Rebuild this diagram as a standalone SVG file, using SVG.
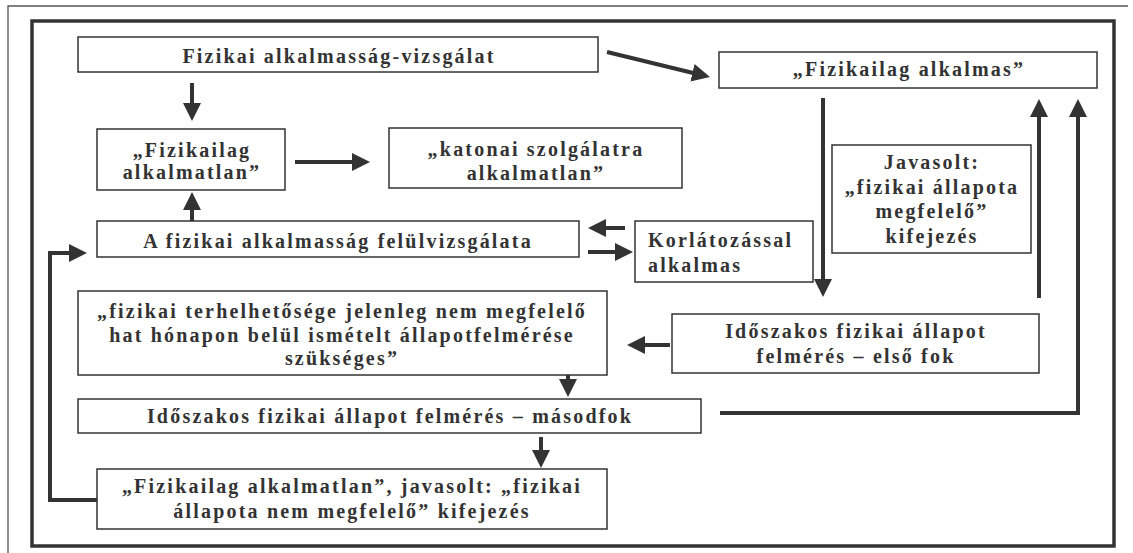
<svg xmlns="http://www.w3.org/2000/svg" width="1133" height="553" viewBox="0 0 1133 553">
<style>
.box{fill:#fff;stroke:#333;stroke-width:1.5}
.t{font-family:"Liberation Serif","Times New Roman",serif;font-weight:bold;font-size:20px;fill:#333;letter-spacing:2.2px}
.m{text-anchor:middle}
.c{fill:none;stroke:#333;stroke-width:4;marker-end:url(#ah)}
.cn{fill:none;stroke:#333;stroke-width:4}
</style>
<defs>
<marker id="ah" viewBox="0 0 18 18" refX="6" refY="9" markerWidth="18" markerHeight="18" markerUnits="userSpaceOnUse" orient="auto">
<path d="M0,0 L18,9 L0,18 z" fill="#333"/>
</marker>
</defs>
<rect width="1133" height="553" fill="#fff"/>
<path d="M8,553 V6 H1128" fill="none" stroke="#555" stroke-width="1.3"/>
<rect x="32" y="21" width="1082" height="525" fill="none" stroke="#333" stroke-width="3.5"/>

<g id="connectors">
<line class="c" x1="607" y1="52" x2="698.3" y2="74.2"/>
<line class="c" x1="192" y1="83" x2="192" y2="109"/>
<line class="c" x1="295" y1="162" x2="358" y2="162"/>
<line class="c" x1="192" y1="221" x2="192" y2="204"/>
<line class="c" x1="625" y1="228" x2="600" y2="228"/>
<line class="c" x1="588" y1="252" x2="621" y2="252"/>
<line class="c" x1="823" y1="98" x2="823" y2="285"/>
<line class="c" x1="1039" y1="298" x2="1039" y2="111"/>
<path class="c" d="M720,413 H1078 V111"/>
<line class="c" x1="670" y1="345" x2="639" y2="345"/>
<line class="c" x1="568" y1="369" x2="568" y2="385"/>
<line class="c" x1="541" y1="437" x2="541" y2="456"/>
<path class="c" d="M97,500 H50 V253 H75"/>
</g>

<g id="n1">
<rect class="box" x="78" y="37" width="520" height="35"/>
<text class="t m" x="339" y="63">Fizikai alkalmasság-vizsgálat</text>
</g>
<g id="n2">
<rect class="box" x="719" y="52" width="378" height="36"/>
<text class="t m" x="909" y="76">„Fizikailag alkalmas”</text>
</g>
<g id="n3">
<rect class="box" x="97" y="129" width="188" height="61"/>
<text class="t m" x="192" y="157">„Fizikailag</text>
<text class="t m" x="192" y="179">alkalmatlan”</text>
</g>
<g id="n4">
<rect class="box" x="389" y="128" width="293" height="60"/>
<text class="t m" x="536" y="156">„katonai szolgálatra</text>
<text class="t m" x="536" y="180">alkalmatlan”</text>
</g>
<g id="n5">
<rect class="box" x="97" y="221" width="482" height="36"/>
<text class="t m" x="338" y="248">A fizikai alkalmasság felülvizsgálata</text>
</g>
<g id="n6">
<rect class="box" x="635" y="221" width="178" height="61"/>
<text class="t" x="648" y="247">Korlátozással</text>
<text class="t" x="648" y="272">alkalmas</text>
</g>
<g id="n7">
<rect class="box" x="832" y="145" width="199" height="108"/>
<text class="t m" x="932" y="169">Javasolt:</text>
<text class="t m" x="932" y="194">„fizikai állapota</text>
<text class="t m" x="932" y="218">megfelelő”</text>
<text class="t m" x="932" y="243">kifejezés</text>
</g>
<g id="n8">
<rect class="box" x="672" y="314" width="367" height="59"/>
<text class="t m" x="856" y="338">Időszakos fizikai állapot</text>
<text class="t m" x="856" y="363">felmérés – első fok</text>
</g>
<g id="n9">
<rect class="box" x="78" y="291" width="529" height="84"/>
<text class="t m" x="342" y="318">„fizikai terhelhetősége jelenleg nem megfelelő</text>
<text class="t m" x="342" y="342">hat hónapon belül ismételt állapotfelmérése</text>
<text class="t m" x="342" y="365">szükséges”</text>
</g>
<g id="n10">
<rect class="box" x="78" y="399" width="623" height="34"/>
<text class="t m" x="390" y="423">Időszakos fizikai állapot felmérés – másodfok</text>
</g>
<g id="n11">
<rect class="box" x="97" y="469" width="510" height="60"/>
<text class="t m" x="352" y="493">„Fizikailag alkalmatlan”, javasolt: „fizikai</text>
<text class="t m" x="352" y="518">állapota nem megfelelő” kifejezés</text>
</g>
</svg>
